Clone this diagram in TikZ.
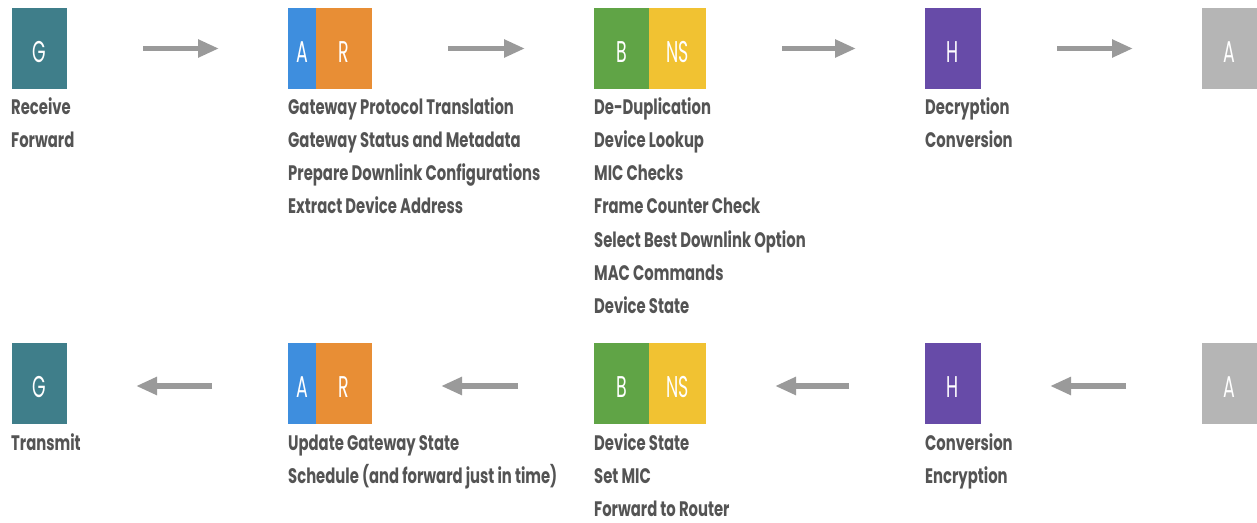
\documentclass[tikz,border=0pt]{standalone}
\usepackage{fontspec}
\setmainfont{Poppins}[FakeStretch=0.705]
\newfontfamily\tagfont{Poppins}[FakeStretch=0.58]
\usetikzlibrary{arrows.meta}

\definecolor{gwteal}{HTML}{3F7E8A}
\definecolor{apblue}{HTML}{3E8EDE}
\definecolor{rtorange}{HTML}{E88E35}
\definecolor{brgreen}{HTML}{60A446}
\definecolor{nsyellow}{HTML}{F1C232}
\definecolor{hdpurple}{HTML}{674BA8}
\definecolor{apgray}{HTML}{B5B5B5}
\definecolor{flowgray}{HTML}{9A9A9A}
\definecolor{captext}{HTML}{545454}

\begin{document}
\begin{tikzpicture}[x=1pt,y=-1pt,
  block/.style={inner sep=0pt, outer sep=0pt, anchor=north west,
    minimum height=81pt, text height=28pt, text depth=0pt,
    font=\tagfont\fontsize{30}{30}\selectfont, text=white},
  caption/.style={anchor=base west, inner sep=0pt,
    font=\bfseries\fontsize{21}{24}\selectfont, text=captext},
  flow/.style={draw=flowgray, line width=5.5pt,
    -{Triangle[length=21pt,width=17pt]},
    shorten <=76pt, shorten >=69pt}]

% canvas
\fill[white] (0,0) rectangle (1257,522);
\useasboundingbox (0,0) rectangle (1257,522);

% ---- uplink row ----
\node[block, fill=gwteal,   minimum width=55pt] (ug)  at (12,8)   {G};
\node[block, fill=apblue,   minimum width=28pt] (uap) at (288,8)  {A};
\node[block, fill=rtorange, minimum width=56pt] (urt) at (316,8)  {R};
\node[block, fill=brgreen,  minimum width=55pt] (ubr) at (594,8)  {B};
\node[block, fill=nsyellow, minimum width=57pt] (uns) at (649,8)  {NS};
\node[block, fill=hdpurple, minimum width=56pt] (uhd) at (925,8)  {H};
\node[block, fill=apgray,   minimum width=55pt] (uas) at (1202,8) {A};

\draw[flow] (ug.east)  -- (uap.west);
\draw[flow] (urt.east) -- (ubr.west);
\draw[flow] (uns.east) -- (uhd.west);
\draw[flow] (uhd.east) -- (uas.west);

\foreach \t [count=\i] in {Receive, Forward}
  \node[caption] (ugtxt-\i) at (11,{114+33.3*(\i-1)}) {\t};
\foreach \t [count=\i] in {Gateway Protocol Translation, Gateway Status and Metadata,
    Prepare Downlink Configurations, Extract Device Address}
  \node[caption] (urtxt-\i) at (288,{114+33.3*(\i-1)}) {\t};
\foreach \t [count=\i] in {De-Duplication, Device Lookup, MIC Checks,
    Frame Counter Check, Select Best Downlink Option, MAC Commands, Device State}
  \node[caption] (untxt-\i) at (594,{114+33.3*(\i-1)}) {\t};
\foreach \t [count=\i] in {Decryption, Conversion}
  \node[caption] (uhtxt-\i) at (925,{114+33.3*(\i-1)}) {\t};

% ---- downlink row ----
\node[block, fill=gwteal,   minimum width=55pt] (dg)  at (12,343)   {G};
\node[block, fill=apblue,   minimum width=28pt] (dap) at (288,343)  {A};
\node[block, fill=rtorange, minimum width=56pt] (drt) at (316,343)  {R};
\node[block, fill=brgreen,  minimum width=55pt] (dbr) at (594,343)  {B};
\node[block, fill=nsyellow, minimum width=57pt] (dns) at (649,343)  {NS};
\node[block, fill=hdpurple, minimum width=56pt] (dhd) at (925,343)  {H};
\node[block, fill=apgray,   minimum width=55pt] (das) at (1202,343) {A};

\draw[flow] ([yshift=-2.5pt]das.west) -- ([yshift=-2.5pt]dhd.east);
\draw[flow] ([yshift=-2.5pt]dhd.west) -- ([yshift=-2.5pt]dns.east);
\draw[flow] ([yshift=-2.5pt]dbr.west) -- ([yshift=-2.5pt]drt.east);
\draw[flow] ([yshift=-2.5pt]dap.west) -- ([yshift=-2.5pt]dg.east);

\foreach \t [count=\i] in {Transmit}
  \node[caption] (dgtxt-\i) at (11,{450+33.3*(\i-1)}) {\t};
\foreach \t [count=\i] in {Update Gateway State, Schedule (and forward just in time)}
  \node[caption] (drtxt-\i) at (288,{450+33.3*(\i-1)}) {\t};
\foreach \t [count=\i] in {Device State, Set MIC, Forward to Router}
  \node[caption] (dntxt-\i) at (594,{450+33.3*(\i-1)}) {\t};
\foreach \t [count=\i] in {Conversion, Encryption}
  \node[caption] (dhtxt-\i) at (925,{450+33.3*(\i-1)}) {\t};
\end{tikzpicture}
\end{document}
